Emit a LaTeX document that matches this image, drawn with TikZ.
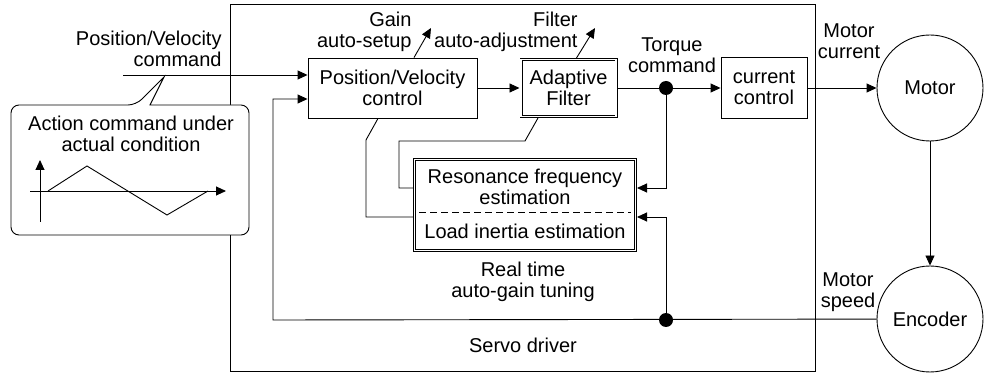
\documentclass[tikz,border=0pt]{standalone}
\usepackage{fontspec}
\setmainfont{Liberation Sans}
\usetikzlibrary{arrows.meta, positioning, calc}

\begin{document}
\begin{tikzpicture}[
    x=1pt, y=-1pt,
    font=\fontsize{20}{21}\selectfont,
    line width=0.9pt,
    block/.style={rectangle, draw, fill=white, align=center, inner sep=2pt},
    dblock/.style={block, double, double distance=1.6pt, line width=0.7pt, outer sep=1.5pt},
    disc/.style={circle, draw, minimum size=106pt, inner sep=0pt},
    junction/.style={circle, fill, minimum size=14pt, inner sep=0pt},
    note/.style={align=center, inner sep=0pt},
    arrow/.style={-{Triangle[length=10pt, width=9pt]}}
]
    \useasboundingbox (0,0) rectangle (989,374);

    % Servo driver frame
    \node (servo) [draw, minimum width=585pt, minimum height=367pt, inner sep=0pt] at (522.5,187.5) {};
    \node (servotxt) [note] at (523,345) {Servo driver};

    % Blocks
    \node (pv) [block, minimum width=169pt, minimum height=60pt] at (392.5,88) {Position/Velocity\\control};
    \node (adf) [dblock, minimum width=95pt, minimum height=57pt] at (568.5,88) {Adaptive\\Filter};
    \node (cc) [block, minimum width=86pt, minimum height=61pt] at (764,88) {current\\control};
    \node (est) [dblock, minimum width=221pt, minimum height=91pt] at (525,205) {};
    \node (res) [note] at (525,187) {Resonance frequency\\estimation};
    \node (inert) [note] at (525,231) {Load inertia estimation};
    \draw [dashed, dash pattern=on 7pt off 4pt] ($(est.west)+(6,7)$) -- ($(est.east)+(-6,7)$);

    % Motor and encoder
    \node (mot) [disc] at (930,88) {Motor};
    \node (enc) [disc] at (930,319) {Encoder};

    % Labels
    \node (cmdtxt) [note, align=right, anchor=east] at (222,49) {Position/Velocity\\command};
    \node (gaintxt) [note, align=right, anchor=east] at (412,32) {Gain\\auto-setup};
    \node (filttxt) [note, align=right, anchor=east] at (578,32) {Filter\\auto-adjustment};
    \node (tqtxt) [note] at (672,55) {Torque\\command};
    \node (mctxt) [note] at (849,41) {Motor\\current};
    \node (mstxt) [note] at (848,292) {Motor\\speed};
    \node (rttxt) [note] at (523,282) {Real time\\auto-gain tuning};

    % Signal path
    \coordinate (cmd) at (123,75);
    \coordinate (fb) at (273,320);
    \coordinate (gainout) at (431,28);
    \coordinate (filtout) at (595,28);
    \draw [arrow] (cmd) -- (cmd -| pv.west);
    \draw [arrow] (enc) -- (fb) |- ($(pv.west)+(0,11)$);
    \draw [arrow] (pv) -- (adf);
    \draw (adf) -- (666,88);
    \node (tq) [junction] at (666,88) {};
    \node (sp) [junction] at (666,320) {};
    \draw [arrow] (tq) -- (cc);
    \draw [arrow] (cc) -- (mot);
    \draw [arrow] (mot) -- (enc);
    \draw [arrow] (tq.center) |- ($(est.east)+(0,-17)$);
    \draw [arrow] (sp.center) |- ($(est.east)+(0,12)$);
    \draw [arrow] ($(pv.north)+(21.5,0)$) -- (gainout);
    \draw [arrow] ($(adf.north)+(8,0)$) -- (filtout);

    % Estimation taps
    \draw ($(pv.south)+(-14.5,0)$) -- (366,140) |- ($(est.west)+(0,12)$);
    \draw ($(adf.south)+(-30.5,0)$) -- (525,141) -- (399,141) |- ($(est.west)+(0,-17)$);

    % Callout
    \draw [fill=white, rounded corners=8pt] (11,170) |- (136,105) [sharp corners] -- (164,77) -- (150,105) [rounded corners=8pt] -| (249,170) |- (11,235) -- cycle;
    \node (acttxt) [note] at (131,134) {Action command under\\actual condition};
    \draw [arrow] (40,222) -- (40,160);
    \draw [arrow] (30,191) -- (226,191);
    \draw (48,191) -- (87,166) -- (167,215) -- (208,191);
\end{tikzpicture}
\end{document}
